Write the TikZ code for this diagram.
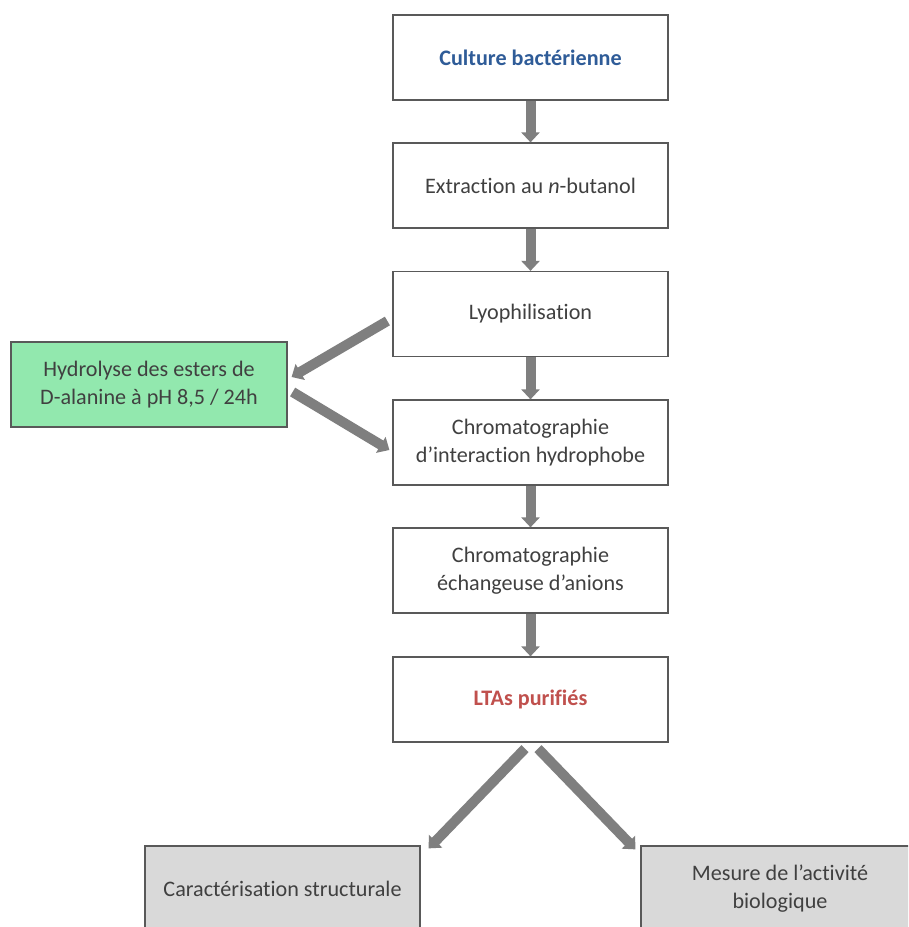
\documentclass[tikz,border=0pt]{standalone}
\usepackage{fontspec}
\setmainfont{Carlito}[Ligatures=NoCommon]
\usepackage{xcolor}
\usetikzlibrary{calc,arrows.meta}

\definecolor{boxline}{HTML}{595959}
\definecolor{arrowgray}{HTML}{7F7F7F}
\definecolor{txtgray}{HTML}{404040}
\definecolor{stepgreen}{RGB}{146,232,174}
\definecolor{stepgray}{HTML}{D9D9D9}
\definecolor{titleblue}{HTML}{2F5C98}
\definecolor{titlered}{HTML}{C0504D}

\tikzset{
  stepbox/.style={draw=boxline, line width=0.7pt, fill=white,
    minimum width=5.5cm, minimum height=1.7cm, align=center,
    text=txtgray, font=\fontsize{12.6pt}{15.9pt}\selectfont},
  flow/.style={draw=arrowgray, line width=0.2cm,
    -{Triangle[width=0.36cm,length=0.2cm]}}
}

\begin{document}
\begin{tikzpicture}

% Frame
\clip (0,0) rectangle (18.16,-18.54);
\fill[white] (0,0) rectangle (18.16,-18.54);

% Main column
\node[stepbox, text=titleblue, font=\fontsize{12.6pt}{15.9pt}\selectfont\bfseries]
  (cult) at (10.61,-1.15) {Culture bactérienne};
\node[stepbox] (extr) at (10.61,-3.71) {Extraction au \textit{n}-butanol};
\node[stepbox] (lyo) at (10.61,-6.28) {Lyophilisation};
\node[stepbox] (chi) at (10.61,-8.85) {Chromatographie\\d’interaction hydrophobe};
\node[stepbox] (cea) at (10.61,-11.41) {Chromatographie\\échangeuse d’anions};
\node[stepbox, text=titlered, font=\fontsize{12.6pt}{15.9pt}\selectfont\bfseries]
  (lta) at (10.61,-13.99) {LTAs purifiés};

% Side step
\node[stepbox, fill=stepgreen, minimum width=5.52cm] (hydro) at (2.98,-7.69)
  {Hydrolyse des esters de\\D-alanine à pH 8,5 / 24h};

% Outcomes
\node[stepbox, fill=stepgray] (struct) at (5.65,-17.77) {Caractérisation structurale};
\node[stepbox, fill=stepgray, minimum width=5.56cm] (bio) at (15.6,-17.77)
  {Mesure de l’activité\\biologique};

% Arrows
\draw[flow] (cult.south) -- (extr.north);
\draw[flow] (extr.south) -- (lyo.north);
\draw[flow] (lyo.south) -- (chi.north);
\draw[flow] (chi.south) -- (cea.north);
\draw[flow] (cea.south) -- (lta.north);

\draw[flow] ($(lyo.west)+(-0.1,-0.14)$) -- ($(hydro.east)+(0.08,0.15)$);
\draw[flow] ($(hydro.east)+(0.1,-0.15)$) -- ($(chi.west)+(-0.06,-0.15)$);

\draw[flow] ($(lta.south)+(-0.11,-0.12)$) -- ($(struct.north east)+(0.16,-0.06)$);
\draw[flow] ($(lta.south)+(0.15,-0.12)$) -- ($(bio.north west)+(-0.1,-0.08)$);

\end{tikzpicture}
\end{document}
